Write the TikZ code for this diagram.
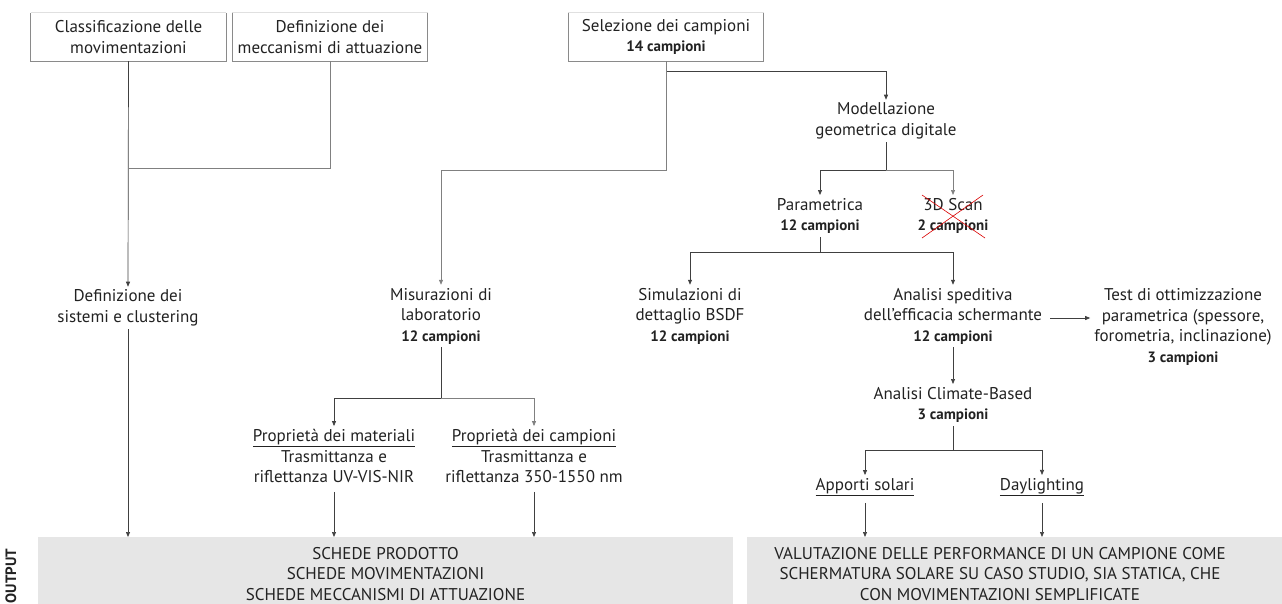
\documentclass[tikz,border=0pt]{standalone}
\usepackage{fontspec}
\setmainfont{PT Sans}
\usetikzlibrary{calc,arrows.meta}
\definecolor{txt}{HTML}{222222}
\definecolor{boxln}{HTML}{8A8A8A}
\definecolor{outfill}{HTML}{E6E6E6}
\tikzset{
  tx/.style={align=center, font=\fontsize{17}{20.5}\selectfont, text=txt, inner xsep=2pt, inner ysep=3pt},
  topbox/.style={tx, minimum width=195pt, minimum height=48pt, inner ysep=2pt},
  ln/.style={draw=black!75, line width=0.7pt},
  gln/.style={draw=black!50, line width=0.7pt},
  arr/.style={-{Triangle[length=5pt,width=4pt]}},
  outbox/.style={fill=outfill, draw=none},
  boxedge/.style={draw=boxln, line width=0.8pt},
  boxtop/.style={draw=black!12, line width=0.8pt},
}
\newcommand{\bc}[1]{{\bfseries\fontsize{15}{18}\selectfont #1}}
\newcommand{\myframebox}[1]{%
  \draw[boxtop] (#1.north west) -- (#1.north east);
  \draw[boxedge] (#1.north west) -- (#1.south west) -- (#1.south east) -- (#1.north east);}
\begin{document}
\begin{tikzpicture}[x=1pt,y=-1pt]
\useasboundingbox (0,0) rectangle (1282,603);
% top boxes
\node[topbox] (b1) at (128.5,37) {Classificazione delle\\movimentazioni};
\node[topbox] (b2) at (330,37) {Definizione dei\\meccanismi di attuazione};
\node[topbox] (b3) at (666,37) {Selezione dei campioni\\\bc{14 campioni}};
\myframebox{b1}\myframebox{b2}\myframebox{b3}
% text nodes
\node[tx] (defsys) at (128,308) {Definizione dei\\sistemi e clustering};
\node[tx] (mis) at (441,316) {Misurazioni di\\laboratorio\\\bc{12 campioni}};
\node[tx] (mod) at (886,121) {Modellazione\\geometrica digitale};
\node[tx] (par) at (820,216) {Parametrica\\\bc{12 campioni}};
\node[tx] (scan) at (953,216) {3D Scan\\\bc{2 campioni}};
\node[tx] (sim) at (690,316) {Simulazioni di\\dettaglio BSDF\\\bc{12 campioni}};
\node[tx] (ana) at (953,316) {Analisi speditiva\\dell’efficacia schermante\\\bc{12 campioni}};
\node[tx] (test) at (1183,327) {Test di ottimizzazione\\parametrica (spessore,\\forometria, inclinazione)\\\bc{3 campioni}};
\node[tx] (clim) at (953,405) {Analisi Climate-Based\\\bc{3 campioni}};
\node[tx] (app) at (865,487) {\underline{Apporti solari}};
\node[tx] (day) at (1042,487) {\underline{Daylighting}};
\node[tx] (propm) at (334,456) {\underline{Proprietà dei materiali}\\Trasmittanza e\\riflettanza UV-VIS-NIR};
\node[tx] (propc) at (534,456) {\underline{Proprietà dei campioni}\\Trasmittanza e\\riflettanza 350-1550 nm};
% output boxes
\fill[outbox] (38,537) rectangle (733,610);
\fill[outbox] (747,537) rectangle (1290,610);
\node[tx, inner sep=0pt] (out1) at (385.5,574) {SCHEDE PRODOTTO\\SCHEDE MOVIMENTAZIONI\\SCHEDE MECCANISMI DI ATTUAZIONE};
\node[tx, inner sep=0pt] (out2) at (1000,574) {VALUTAZIONE DELLE PERFORMANCE DI UN CAMPIONE COME\\SCHERMATURA SOLARE SU CASO STUDIO, SIA STATICA, CHE\\CON MOVIMENTAZIONI SEMPLIFICATE};
\coordinate (o1) at (385.5,537);
\coordinate (o2) at (1000,537);
\node[rotate=90, font=\bfseries\fontsize{15}{16}\selectfont, text=txt, anchor=center] (outlbl) at (11,576) {OUTPUT};
% connectors
\draw[ln,arr] (b1.south) -- (defsys.north);
\draw[gln] (b2.south) |- (b1.south |- 0,168);
\draw[ln,arr] (b3.south) -- ++(0,10) -| (mod.north);
\draw[gln,arr] (b3.south) -- (b3.south |- 0,170) -| (mis.north);
\draw[ln,arr] (mod.south) -- (mod.south |- 0,170) -| (par.north);
\draw[gln,arr] (mod.south |- 0,170) -| (scan.north);
\draw[ln,arr] (par.south) -- (par.south |- 0,252) -| (sim.north);
\draw[ln,arr] (par.south |- 0,252) -| (ana.north);
\draw[ln,arr] ([xshift=6pt]ana.east |- 0,318) -- ([xshift=-2pt]test.west |- 0,318);
\draw[ln,arr] (ana.south) -- (clim.north);
\draw[ln,arr] (clim.south) -- (clim.south |- 0,450) -| (app.north);
\draw[ln,arr] (clim.south |- 0,450) -| (day.north);
\draw[ln,arr] (mis.south) -- (mis.south |- 0,398) -| (propm.north);
\draw[gln,arr] (mis.south |- 0,398) -| (propc.north);
\draw[ln,arr] (defsys.south) -- (defsys.south |- o1);
\draw[ln,arr] ([yshift=-6pt]propm.south) -- (propm.south |- o1);
\draw[ln,arr] ([yshift=-6pt]propc.south) -- (propc.south |- o1);
\draw[ln,arr] ([yshift=-4pt]app.south) -- (app.south |- o2);
\draw[ln,arr] ([yshift=-4pt]day.south) -- (day.south |- o2);
% red cross
\draw[red!85!black, line width=0.6pt] ($(scan.center)+(-31,-21)$) -- ($(scan.center)+(32,22)$);
\draw[red!85!black, line width=0.6pt] ($(scan.center)+(-31,22)$) -- ($(scan.center)+(30,-21)$);
\end{tikzpicture}
\end{document}
